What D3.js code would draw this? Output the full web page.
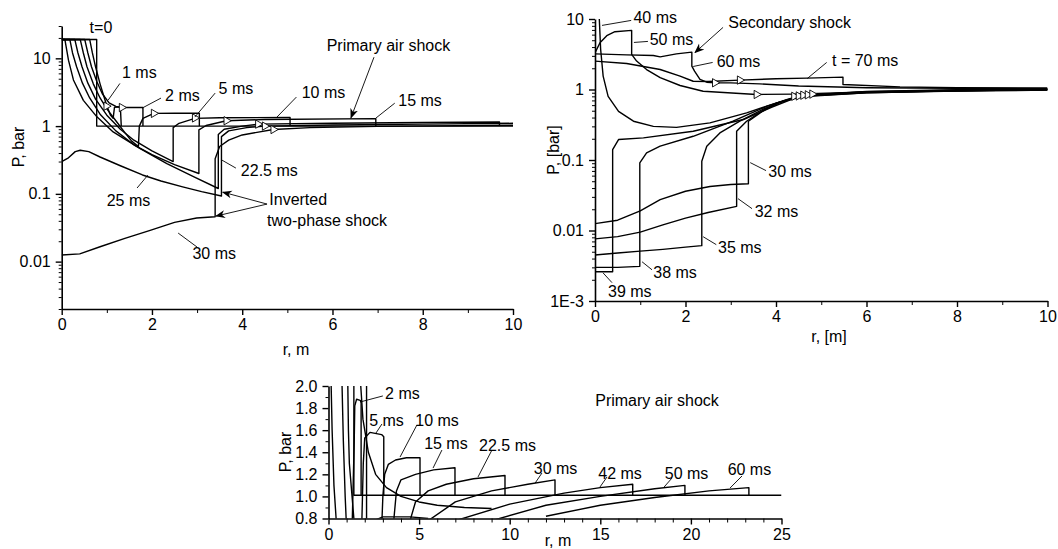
<!DOCTYPE html>
<html>
<head>
<meta charset="utf-8">
<script src="https://cdn.jsdelivr.net/npm/d3@7"></script>
<style>
  body { margin: 0; background: #fff; }
  svg { display: block; font-family: "Liberation Sans", Arial, sans-serif; }
  .tick text { font-size: 16px; fill: #000; }
  .ann { font-size: 16px; fill: #000; }
</style>
</head>
<body>
<svg id="chart" width="1058" height="549"></svg>
<script>
// ---------- panel 1 : P(r) on log scale, 0..10 m ----------
const p1_t0   = [[0,19],[0.775,19],[0.775,1],[10,1]];
const p1_1ms  = [[0,19],[0.62,19],[0.68,12],[0.75,7.5],[0.85,4.2],[0.93,2.8],[1.0,2.0],[1.08,1.45],[1.14,1.3],[1.17,1.9],[1.3,1.92],[1.32,1]];
const p1_2ms  = [[0,19],[0.51,19],[0.58,12],[0.66,7.5],[0.78,4.5],[0.9,3.0],[1.05,2.2],[1.2,1.95],[1.33,1.88],[1.8,1.88],[1.8,1]];
const p1_5ms  = [[0,19],[0.41,19],[0.48,12],[0.56,7.5],[0.7,4.2],[0.85,2.6],[1.0,1.8],[1.2,1.2],[1.4,0.8],[1.55,0.6],[1.7,0.5],[1.72,1.0],[1.8,1.3],[2.04,1.54],[2.5,1.55],[3.05,1.55],[3.05,1]];
const p1_10ms = [[0,19],[0.29,19],[0.36,12],[0.45,7.5],[0.58,4.3],[0.75,2.5],[1.0,1.45],[1.3,0.9],[1.6,0.62],[2.0,0.43],[2.47,0.3],[2.47,0.95],[2.6,1.1],[2.95,1.3],[3.5,1.33],[5.06,1.34],[5.06,1]];
const p1_15ms = [[0,19],[0.18,19],[0.24,12],[0.33,7.5],[0.46,4.3],[0.62,2.6],[0.85,1.5],[1.2,0.85],[1.6,0.53],[2.0,0.38],[2.5,0.27],[3.04,0.2],[3.04,0.88],[3.2,1.02],[3.65,1.2],[4.5,1.25],[6.96,1.29],[6.96,1]];
const p1_22ms = [[0,19],[0.07,19],[0.15,9.4],[0.26,4.8],[0.48,2.4],[0.78,1.37],[1.14,0.82],[1.73,0.47],[2.33,0.28],[2.92,0.18],[3.47,0.12],[3.47,0.75],[3.6,0.9],[4.0,1.0],[4.35,1.07],[6,1.1],[8,1.13],[9.7,1.15],[9.7,1.02]];
const p1_25ms = [[0,0.3],[0.15,0.34],[0.3,0.42],[0.41,0.44],[0.6,0.42],[0.85,0.35],[1.3,0.26],[1.79,0.19],[2.2,0.155],[2.68,0.127],[3.1,0.108],[3.54,0.093],[3.54,0.7],[3.7,0.85],[4.1,0.95],[4.5,1.0],[6,1.04],[8,1.07],[10,1.1]];
const p1_30ms = [[0,0.0125],[0.4,0.013],[0.85,0.0166],[1.4,0.022],[1.96,0.029],[2.5,0.038],[2.99,0.044],[3.4,0.046],[3.4,0.33],[3.5,0.5],[3.7,0.62],[4.0,0.74],[4.69,0.89],[5.5,0.95],[7,0.99],[10,1.03]];
const p1_curves = [p1_t0, p1_1ms, p1_2ms, p1_5ms, p1_10ms, p1_15ms, p1_22ms, p1_25ms, p1_30ms];
const p1_marks  = [[0.99,1.97],[1.33,1.88],[2.04,1.54],[2.95,1.32],[3.65,1.2],[4.35,1.07],[4.5,1.0],[4.69,0.89]];
const p1_yMajor = [0.01, 0.1, 1, 10];
const p1_yLabels = ["0.01", "0.1", "1", "10"];
const p1_xMajor = [0, 2, 4, 6, 8, 10];

// ---------- panel 2 : P(r) on log scale, later times ----------
const p2_40ms = [[0.06,30],[0.095,10],[0.125,3.7],[0.18,1.55],[0.29,0.8],[0.52,0.49],[0.85,0.355],[1.29,0.3],[1.8,0.29],[2.54,0.336],[3.35,0.467],[4.02,0.647],[4.53,0.8],[6,0.9],[8,0.96],[10,1.0]];
const p2_50ms = [[0,3.3],[0.11,4.6],[0.26,5.8],[0.44,6.6],[0.81,6.9],[0.81,3.15],[0.92,2.53],[1.14,1.92],[1.44,1.47],[1.88,1.14],[2.39,0.946],[3.57,0.85],[4.4,0.86],[6,0.92],[8,0.96],[10,0.99]];
const p2_60ms = [[0,3.2],[0.7,3.1],[1.29,3.04],[1.44,2.9],[1.8,3.2],[2.14,3.39],[2.14,2.14],[2.2,1.82],[2.32,1.39],[2.47,1.27],[2.65,1.245],[3.0,1.24],[3.64,1.2],[4.5,1.12],[6,1.06],[8,1.04],[10,1.03]];
const p2_70ms = [[0,2.53],[0.7,2.34],[1.44,1.92],[1.88,1.55],[2.17,1.31],[2.5,1.3],[3.2,1.36],[4.0,1.42],[4.69,1.45],[5.48,1.5],[5.48,1.18],[6.74,1.09],[8,1.06],[10,1.05]];
const p2_30ms = [[0,0.0125],[0.5,0.014],[1.0,0.019],[1.44,0.0274],[2.0,0.036],[2.54,0.042],[3.0,0.045],[3.39,0.046],[3.39,0.355],[3.65,0.467],[4.02,0.647],[4.53,0.79],[6,0.9],[8,0.95],[10,0.98]];
const p2_32ms = [[0,0.0076],[0.5,0.0082],[1.0,0.0095],[1.5,0.012],[2.0,0.015],[2.5,0.018],[3.13,0.022],[3.13,0.256],[3.35,0.355],[3.7,0.5],[4.1,0.66],[4.6,0.81],[6,0.91],[8,0.96],[10,0.99]];
const p2_35ms = [[0,0.0045],[0.5,0.0048],[1.0,0.0051],[1.5,0.0054],[2.0,0.0058],[2.36,0.0061],[2.36,0.096],[2.47,0.157],[2.76,0.242],[3.2,0.355],[3.7,0.52],[4.2,0.7],[4.65,0.82],[6,0.92],[8,0.97],[10,1.0]];
const p2_38ms = [[0,0.003],[0.5,0.003],[0.99,0.0031],[0.99,0.091],[1.14,0.126],[1.44,0.157],[2.17,0.217],[3.05,0.355],[3.8,0.58],[4.3,0.74],[4.7,0.83],[6,0.93],[8,0.98],[10,1.01]];
const p2_39ms = [[0,0.0026],[0.39,0.0026],[0.39,0.14],[0.52,0.195],[1.07,0.206],[2.17,0.256],[3.28,0.375],[3.9,0.56],[4.4,0.75],[4.75,0.84],[6,0.94],[8,0.99],[10,1.02]];
const p2_curves = [p2_40ms, p2_50ms, p2_60ms, p2_70ms, p2_30ms, p2_32ms, p2_35ms, p2_38ms, p2_39ms];
const p2_marks  = [[2.65,1.245],[3.2,1.36],[3.57,0.85],[4.4,0.8],[4.5,0.81],[4.6,0.83],[4.7,0.84],[4.8,0.86]];
const p2_yMajor = [0.001, 0.01, 0.1, 1, 10];
const p2_yLabels = ["1E-3", "0.01", "0.1", "1", "10"];
const p2_xMajor = [0, 2, 4, 6, 8, 10];

// ---------- panel 3 : P(r) on linear scale, 0..25 m ----------
const p3_base  = [[1.4,2.2],[1.4,1.01],[25,1.01]];
const p3_edge  = [[2.1,2.2],[2.1,0.7]];
const p3_fan1  = [[0.12,2.2],[0.2,1.6],[0.3,1.1],[0.42,0.8],[0.5,0.7]];
const p3_fan2  = [[0.72,2.2],[0.82,1.5],[0.92,1.0],[1.0,0.7]];
const p3_fan3  = [[1.05,2.2],[1.1,1.6],[1.15,1.3],[1.3,1.0],[1.45,0.7]];
const p3_2ms   = [[1.3,0.7],[1.42,1.5],[1.45,1.82],[1.55,1.88],[1.75,1.87],[1.8,1.85],[1.8,1.01]];
const p3_5ms   = [[1.83,0.7],[1.92,1.3],[2.0,1.53],[2.29,1.58],[2.93,1.56],[3.05,1.54],[3.05,1.01]];
const p3_10ms  = [[2.95,0.78],[3.0,1.0],[3.1,1.2],[3.3,1.29],[3.7,1.33],[4.3,1.35],[5.05,1.35],[5.05,1.01]];
const p3_15ms  = [[3.6,0.78],[3.75,1.05],[4.0,1.15],[4.8,1.2],[5.8,1.24],[6.98,1.26],[6.98,1.01]];
const p3_22ms  = [[4.5,0.78],[4.8,0.95],[5.5,1.05],[6.5,1.11],[8,1.16],[9.74,1.19],[9.74,1.01]];
const p3_30ms  = [[5.5,0.78],[7,0.95],[9,1.05],[11,1.11],[12.5,1.15],[12.5,1.01]];
const p3_42ms  = [[7,0.78],[10,0.93],[13,1.03],[15,1.08],[16.79,1.11],[16.79,1.01]];
const p3_50ms  = [[9,0.78],[12,0.92],[15,1.0],[18,1.07],[19.67,1.1],[19.67,1.01]];
const p3_60ms  = [[12,0.82],[15,0.92],[18,0.99],[21,1.05],[23.2,1.08],[23.2,1.01]];
const p3_tail  = [[1.7,2.2],[1.9,1.7],[2.2,1.4],[2.6,1.2],[3.2,1.08],[4,1.0],[5,0.95],[6,0.92],[7.5,0.9],[9,0.89]];
const p3_low   = [[2.5,0.78],[3.0,0.815],[4.5,0.815],[5.5,0.8]];
const p3_curves = [p3_base, p3_edge, p3_fan1, p3_fan2, p3_fan3, p3_2ms, p3_5ms, p3_10ms, p3_15ms, p3_22ms, p3_30ms, p3_42ms, p3_50ms, p3_60ms, p3_tail, p3_low];
const p3_yMajor = [0.8, 1.0, 1.2, 1.4, 1.6, 1.8, 2.0];
const p3_xMajor = [0, 5, 10, 15, 20, 25];

// ---------- annotations (data coordinates) ----------
// [text, x, y, leader from [x,y], leader to [x,y], arrow?]
const p1_notes = [
  ["t=0", 0.87, 28.8, null, null],
  ["1 ms", 1.72, 6.26, [1.29,4.26], [1.03,2.42]],
  ["2 ms", 2.675, 2.87, [2.2,2.59], [1.78,1.84]],
  ["5 ms", 3.86, 3.63, [3.4,3.07], [2.95,1.36]],
  ["10 ms", 5.8, 3.17, [5.2,2.68], [4.77,1.36]],
  ["15 ms", 7.94, 2.42, [7.38,2.18], [6.96,1.31]],
  ["Primary air shock", 7.24, 15.7, [6.92,10.4], [6.41,1.33], true],
  ["22.5 ms", 4.6, 0.224, [3.86,0.24], [3.55,0.315]],
  ["25 ms", 1.48, 0.081, [1.67,0.122], [1.91,0.189]],
  ["30 ms", 3.38, 0.0134, [3.0,0.0164], [2.58,0.0264]]
];
const p1_inverted = { lines: ["Inverted", "two-phase shock"], at: [[4.6,0.0838],[4.55,0.041]], from: [4.55,0.0707], to: [[3.57,0.106],[3.42,0.047]] };
const p2_notes = [
  ["40 ms", 1.33, 10.5, [0.8,9.55], [0.155,8.11]],
  ["50 ms", 1.69, 5.13, [1.17,4.81], [0.86,4.65]],
  ["Secondary shock", 4.3, 8.95, [2.83,7.6], [2.21,3.35], true],
  ["60 ms", 3.17, 2.5, [2.6,2.42], [2.17,2.12]],
  ["t = 70 ms", 5.97, 2.58, [5.12,2.42], [4.69,1.43]],
  ["30 ms", 4.31, 0.0684, [3.78,0.0707], [3.43,0.0918]],
  ["32 ms", 4.01, 0.0185, [3.47,0.0204], [3.16,0.0283]],
  ["35 ms", 3.2, 0.0057, [2.68,0.0063], [2.39,0.00816]],
  ["38 ms", 1.77, 0.00251, [1.26,0.00277], [1.04,0.0036]],
  ["39 ms", 0.77, 0.00135, [0.376,0.00182], [0.177,0.00251]]
];
const p3_notes = [
  ["2 ms", 4.08, 1.937, [3.0,1.91], [1.74,1.855]],
  ["5 ms", 3.2, 1.692, [2.95,1.656], [2.62,1.574]],
  ["10 ms", 5.99, 1.692, [4.88,1.647], [3.95,1.357]],
  ["15 ms", 6.48, 1.484, [6.26,1.42], [5.77,1.257]],
  ["22.5 ms", 9.88, 1.466, [9.02,1.42], [8.25,1.176]],
  ["30 ms", 12.53, 1.257, [11.78,1.212], [11.4,1.12]],
  ["42 ms", 16.09, 1.212, [15.37,1.176], [14.98,1.085]],
  ["50 ms", 19.76, 1.212, [18.96,1.167], [18.52,1.085]],
  ["60 ms", 23.23, 1.248, [22.82,1.185], [22.16,1.076]],
  ["Primary air shock", 18.13, 1.873, null, null]
];

// ---------- drawing ----------
const svg = d3.select("#chart");
const defs = svg.append("defs");
defs.append("marker")
  .attr("id", "arrow")
  .attr("viewBox", "0 0 10 10")
  .attr("refX", 9).attr("refY", 5)
  .attr("markerWidth", 10).attr("markerHeight", 10)
  .attr("markerUnits", "userSpaceOnUse")
  .attr("orient", "auto")
  .append("path").attr("d", "M0,1 L10,5 L0,9 L3,5 Z").attr("fill", "#000");

function logMinor(lo, hi) {
  const out = [];
  for (let e = -4; e <= 2; e++) {
    for (let k = 2; k <= 9; k++) {
      const v = k * Math.pow(10, e);
      if (v >= lo * 0.999 && v <= hi * 1.001) out.push(v);
    }
  }
  return out;
}

function drawPanel(cfg) {
  const g = svg.append("g");
  const x = d3.scaleLinear().domain(cfg.xDomain).range(cfg.xRange);
  const y = (cfg.log ? d3.scaleLog() : d3.scaleLinear()).domain(cfg.yDomain).range(cfg.yRange);

  defs.append("clipPath").attr("id", cfg.id)
    .append("rect")
    .attr("x", cfg.xRange[0]).attr("y", cfg.yRange[1])
    .attr("width", cfg.xRange[1] - cfg.xRange[0])
    .attr("height", cfg.yRange[0] - cfg.yRange[1]);

  const line = d3.line().x(d => x(d[0])).y(d => y(d[1]));

  g.append("g")
    .attr("clip-path", `url(#${cfg.id})`)
    .selectAll("path")
    .data(cfg.curves)
    .join("path")
    .attr("d", line)
    .attr("fill", "none")
    .attr("stroke", "#000")
    .attr("stroke-width", 1.4)
    .attr("stroke-linejoin", "round");

  if (cfg.marks) {
    g.append("g").selectAll("path")
      .data(cfg.marks)
      .join("path")
      .attr("d", d3.symbol(d3.symbolTriangle, 30))
      .attr("transform", d => `translate(${x(d[0])},${y(d[1])}) rotate(90)`)
      .attr("fill", "#fff")
      .attr("stroke", "#000")
      .attr("stroke-width", 0.9);
  }

  // minor ticks
  g.append("g")
    .attr("transform", `translate(${cfg.xRange[0]},0)`)
    .call(d3.axisLeft(y).tickValues(cfg.yMinor).tickSize(3).tickFormat(""))
    .call(a => a.select(".domain").remove());
  g.append("g")
    .attr("transform", `translate(0,${cfg.yRange[0]})`)
    .call(d3.axisBottom(x).tickValues(cfg.xMinor).tickSize(4).tickFormat(""))
    .call(a => a.select(".domain").remove());

  // major ticks and axis lines
  const ya = g.append("g")
    .attr("transform", `translate(${cfg.xRange[0]},0)`)
    .call(d3.axisLeft(y).tickValues(cfg.yMajor).tickSize(6).tickSizeOuter(0).tickPadding(5)
      .tickFormat((d, i) => cfg.yLabels[i]));
  const xa = g.append("g")
    .attr("transform", `translate(0,${cfg.yRange[0]})`)
    .call(d3.axisBottom(x).tickValues(cfg.xMajor).tickSize(6).tickSizeOuter(0).tickPadding(4)
      .tickFormat(d3.format("d")));
  [ya, xa].forEach(a => {
    a.selectAll("line").attr("stroke-width", 1.4);
    a.select(".domain").attr("stroke-width", 1.6);
    a.selectAll("text").style("font-family", "'Liberation Sans', Arial, sans-serif");
  });
  g.selectAll(".tick line").attr("stroke", "#000");

  // axis titles
  g.append("text").attr("class", "ann")
    .attr("transform", `translate(${cfg.yTitlePos[0]},${cfg.yTitlePos[1]}) rotate(-90)`)
    .attr("text-anchor", "middle").attr("dy", "0.35em")
    .text(cfg.yTitle);
  g.append("text").attr("class", "ann")
    .attr("x", cfg.xTitlePos[0]).attr("y", cfg.xTitlePos[1])
    .attr("text-anchor", "middle").attr("dy", "0.35em")
    .text(cfg.xTitle);

  // annotations
  cfg.notes.forEach(n => {
    g.append("text").attr("class", "ann")
      .attr("x", x(n[1])).attr("y", y(n[2]))
      .attr("text-anchor", "middle").attr("dy", "0.35em")
      .text(n[0]);
    if (n[3]) {
      const l = g.append("line")
        .attr("x1", x(n[3][0])).attr("y1", y(n[3][1]))
        .attr("x2", x(n[4][0])).attr("y2", y(n[4][1]))
        .attr("stroke", "#000").attr("stroke-width", 0.9);
      if (n[5]) l.attr("marker-end", "url(#arrow)");
    }
  });
  return { g, x, y };
}

const P1 = drawPanel({
  id: "clip1", log: true,
  xDomain: [0, 10], xRange: [61.7, 513],
  yDomain: [0.002, 30], yRange: [309, 26],
  curves: p1_curves, marks: p1_marks,
  yMajor: p1_yMajor, yLabels: p1_yLabels, yMinor: logMinor(0.002, 30),
  xMajor: p1_xMajor, xMinor: [1, 3, 5, 7, 9],
  yTitle: "P, bar", yTitlePos: [18, 147],
  xTitle: "r, m", xTitlePos: [296, 349],
  notes: p1_notes
});
// "Inverted two-phase shock" note with two arrows
p1_inverted.lines.forEach((t, i) => {
  P1.g.append("text").attr("class", "ann")
    .attr("x", P1.x(p1_inverted.at[i][0])).attr("y", P1.y(p1_inverted.at[i][1]))
    .attr("dy", "0.35em").text(t);
});
p1_inverted.to.forEach(t => {
  P1.g.append("line")
    .attr("x1", P1.x(p1_inverted.from[0])).attr("y1", P1.y(p1_inverted.from[1]))
    .attr("x2", P1.x(t[0])).attr("y2", P1.y(t[1]))
    .attr("stroke", "#000").attr("stroke-width", 0.9)
    .attr("marker-end", "url(#arrow)");
});

drawPanel({
  id: "clip2", log: true,
  xDomain: [0, 10], xRange: [595, 1047.5],
  yDomain: [0.001, 10], yRange: [301, 19],
  curves: p2_curves, marks: p2_marks,
  yMajor: p2_yMajor, yLabels: p2_yLabels, yMinor: logMinor(0.001, 10),
  xMajor: p2_xMajor, xMinor: [1, 3, 5, 7, 9],
  yTitle: "P, [bar]", yTitlePos: [553, 150],
  xTitle: "r, [m]", xTitlePos: [829, 336],
  notes: p2_notes
});

drawPanel({
  id: "clip3", log: false,
  xDomain: [0, 25], xRange: [328.5, 781.5],
  yDomain: [0.8, 2.0], yRange: [518.5, 386],
  curves: p3_curves, marks: null,
  yMajor: p3_yMajor, yLabels: p3_yMajor.map(d3.format(".1f")),
  yMinor: [0.9, 1.1, 1.3, 1.5, 1.7, 1.9],
  xMajor: p3_xMajor, xMinor: d3.range(1, 25).filter(d => d % 5 !== 0),
  yTitle: "P, bar", yTitlePos: [285, 452],
  xTitle: "r, m", xTitlePos: [558, 540],
  notes: p3_notes
});
</script>
</body>
</html>
